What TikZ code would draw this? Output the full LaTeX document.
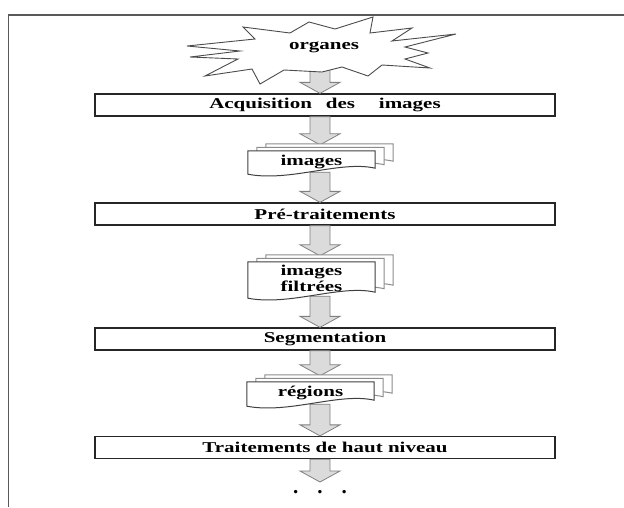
\documentclass[tikz,border=0pt]{standalone}
\usepackage{fontspec}
\setmainfont{Liberation Serif}
\usetikzlibrary{calc}
\newcommand\wtxt[1]{\scalebox{1.4}[1]{#1}}
\newcommand\docsheet[3]{\path[#3] ($(#1.north west)+#2$) -- ($(#1.north east)+#2$) -- ($(#1.south east)+#2+(0,-4)$) .. controls ($(#1.south east)+#2+(-35,-12)$) and ($(#1.south east)+#2+(-85,10)$) .. ($(#1.south west)+#2+(0,2)$) -- cycle;}
\newcommand\fatarrow[2]{\path[fatarrow] let \p1=#1, \p2=#2 in (\x1-10pt,\y1) -- (\x1+10pt,\y1) -- (\x1+10pt,\y2+11pt) -- (\x1+20pt,\y2+11pt) -- (\x1,\y2) -- (\x1-20pt,\y2+11pt) -- (\x1-10pt,\y2+11pt) -- cycle;}
\begin{document}
\begin{tikzpicture}[x=1pt,y=-1pt,
  lbl/.style={font=\fontsize{15}{16}\selectfont\bfseries},
  stepbox/.style={draw=black!85, fill=white, line width=1.3pt, minimum width=460pt, minimum height=22pt, inner sep=0pt, lbl},
  docslot/.style={inner sep=0pt, minimum width=127pt},
  doctext/.style={inner sep=0pt, lbl, align=center},
  docfront/.style={draw=black!75, fill=white, line width=1pt},
  docback/.style={draw=black!45, fill=white, line width=1pt},
  fatarrow/.style={draw=black!50, fill=black!14, line width=0.8pt},
  frame/.style={draw=black!65, line width=1.5pt},
  star/.style={draw=black!70, fill=white, line width=0.9pt}]
\useasboundingbox (0,0) rectangle (624,507);
\draw[frame] (8.5,507) -- (8.5,15) -- (624,15);
\coordinate (ax) at (320,0);
% step boxes
\node[stepbox] (b1) at (325,105) {\wtxt{Acquisition\hspace{10pt}des\hspace{17pt}images}};
\node[stepbox] (b2) at (325,214) {\wtxt{Pré-traitements}};
\node[stepbox] (b3) at (325,339) {\wtxt{Segmentation}};
\node[stepbox] (b4) at (325,447.5) {\wtxt{Traitements de haut niveau}};
% document slots
\node[docslot, minimum height=21pt] (d1) at (311.5,161.5) {};
\node[docslot, minimum height=34pt] (d2) at (311.5,279) {};
\node[docslot, minimum height=22pt] (d3) at (310.5,393) {};
\coordinate (st) at (320,64);
\coordinate (fin) at (320,482);
% arrows
\fatarrow{(ax |- st)}{(ax |- b1.north)}
\fatarrow{(ax |- b1.south)}{($(ax |- d1.north)+(0,-6)$)}
\fatarrow{(ax |- d1.south)}{(ax |- b2.north)}
\fatarrow{(ax |- b2.south)}{($(ax |- d2.north)+(0,-6)$)}
\fatarrow{(ax |- d2.south)}{(ax |- b3.north)}
\fatarrow{(ax |- b3.south)}{($(ax |- d3.north)+(0,-6)$)}
\fatarrow{(ax |- d3.south)}{(ax |- b4.north)}
\fatarrow{(ax |- b4.south)}{(ax |- fin)}
% documents
\foreach \d in {d1,d2,d3}{
  \docsheet{\d}{(18,-7)}{docback}
  \docsheet{\d}{(9,-3.5)}{docback}
  \docsheet{\d}{(0,0)}{docfront}
}
\node[doctext] (t1) at (d1) {\wtxt{images}};
\node[doctext] (t2) at ($(d2)+(0,-1)$) {\wtxt{images}\\\wtxt{filtrées}};
\node[doctext] (t3) at (d3) {\wtxt{régions}};
% starburst
\path[star] (187,46) -- (255,39) -- (243,27) -- (290,33) -- (309,22) -- (335,29) -- (373,17) -- (370,33) -- (412,28) -- (392,41) -- (456,34) -- (405,47) -- (428,53) -- (405,59) -- (430,68) -- (382,65) -- (368,76) -- (342,67) -- (322,72) -- (284,70) -- (260,84) -- (252,69) -- (205,76) -- (238,59) -- (190,57) -- (240,51) -- cycle;
\node[lbl] (org) at (324,47) {\wtxt{organes}};
\node[font=\fontsize{21}{22}\selectfont\bfseries, inner sep=0pt] (dots) at (fin |- 0,492) {.\hspace{19pt}.\hspace{19pt}.};
\end{tikzpicture}
\end{document}
